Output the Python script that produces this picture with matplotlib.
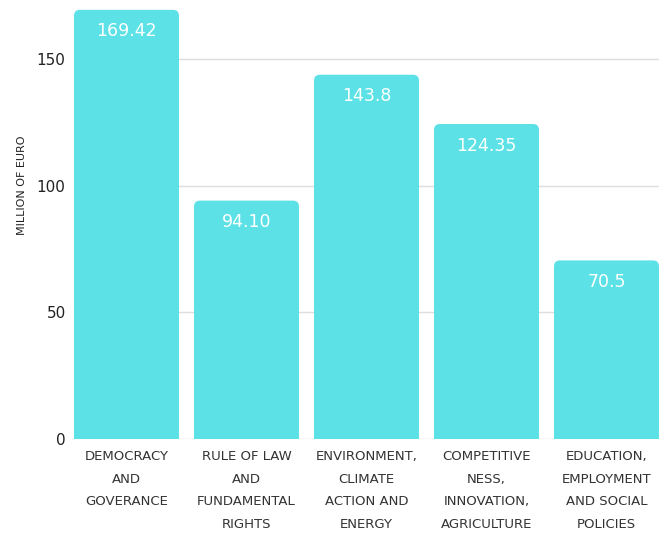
import matplotlib
matplotlib.use("Agg")
import matplotlib.pyplot as plt
from matplotlib.patches import FancyBboxPatch

categories = [
    "DEMOCRACY\nAND\nGOVERANCE",
    "RULE OF LAW\nAND\nFUNDAMENTAL\nRIGHTS",
    "ENVIRONMENT,\nCLIMATE\nACTION AND\nENERGY",
    "COMPETITIVE\nNESS,\nINNOVATION,\nAGRICULTURE",
    "EDUCATION,\nEMPLOYMENT\nAND SOCIAL\nPOLICIES",
]
values = [169.42, 94.10, 143.8, 124.35, 70.5]
value_labels = ["169.42", "94.10", "143.8", "124.35", "70.5"]
yticks = [0, 50, 100, 150]

bar_color = "#5ce1e6"
width = 0.875

fig = plt.figure(figsize=(6.62, 5.33), dpi=100)
ax = fig.add_axes([74 / 662, 94 / 533, 585 / 662, (439 - 3.3) / 533])
ax.set_xlim(-width / 2, len(values) - 1 + width / 2)
ax.set_ylim(0, 172)

# rounded bars (extend below zero so only the top corners look rounded)
px_x = 585 / 4.875
px_y = (439 - 3.3) / 172
r = 6 / px_x
for i, v in enumerate(values):
    p = FancyBboxPatch((i - width / 2, -5), width, v + 5,
                       boxstyle=f"round,pad=0,rounding_size={r}",
                       mutation_aspect=px_x / px_y,
                       facecolor=bar_color, edgecolor="none", zorder=2)
    ax.add_patch(p)
    ax.text(i, v - 8.5, value_labels[i], ha="center", va="center",
            color="white", fontsize=12.5, zorder=3)

ax.set_yticks(yticks)
ax.set_yticklabels([str(t) for t in yticks], fontsize=11, color="#222222")
ax.set_xticks(range(len(categories)))
ax.set_xticklabels(categories, fontsize=9.5, color="#333333", linespacing=1.95,
                   va="top")
ax.tick_params(axis="both", length=0)
ax.tick_params(axis="y", pad=6)
ax.tick_params(axis="x", pad=8)

ax.grid(axis="y", color="#dddddd", linewidth=1, zorder=0)
ax.set_axisbelow(True)
for s in ax.spines.values():
    s.set_visible(False)

fig.text(22 / 662, 1 - 185 / 533, "MILLION OF EURO", rotation=90,
         ha="center", va="center", fontsize=8, color="#222222")

fig.savefig("out.png", dpi=100, facecolor="white")
